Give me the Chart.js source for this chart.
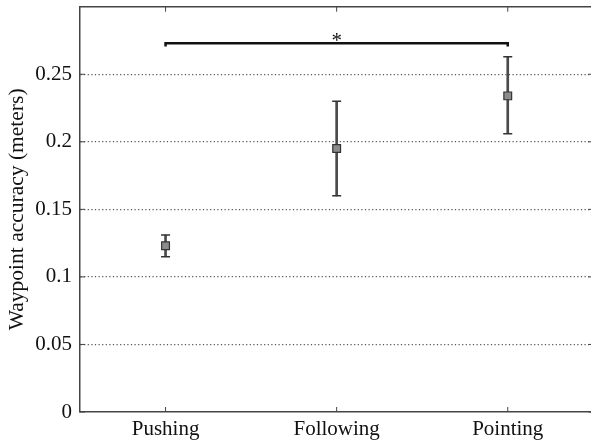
<!DOCTYPE html>
<html>
<head>
<meta charset="utf-8">
<script src="https://cdn.jsdelivr.net/npm/chart.js@4"></script>
<style>
  html, body { margin: 0; padding: 0; background: #fff; overflow: hidden; }
  #wrap { width: 600px; height: 440px; }
</style>
</head>
<body>
<div id="wrap"><canvas id="accChart"></canvas></div>
<script>
// data
const categories = ["Pushing", "Following", "Pointing"];
const meanValues = [0.123, 0.195, 0.234];
const lowerValues = [0.115, 0.160, 0.206];
const upperValues = [0.131, 0.230, 0.263];
const yTickValues = [0, 0.05, 0.1, 0.15, 0.2, 0.25];
const yMax = 0.3;
const bracketFrom = "Pushing";
const bracketTo = "Pointing";
const bracketLevel = 0.273;
const bracketTip = 0.2705;
const sigLabel = "*";

const serif = "'Liberation Serif', 'Times New Roman', serif";

// box border on top + inward tick marks + asterisk
const framePlugin = {
    id: "frame",
    afterDraw(chart) {
        const { ctx, chartArea: a, scales } = chart;
        const x = scales.x, y = scales.y;
        ctx.save();
        ctx.strokeStyle = "#444";
        ctx.lineWidth = 1.5;
        ctx.beginPath();
        ctx.moveTo(a.left, a.top);
        ctx.lineTo(a.right, a.top);
        ctx.stroke();
        ctx.lineWidth = 1;
        ctx.beginPath();
        categories.forEach((c, i) => {
            const px = x.getPixelForValue(i);
            ctx.moveTo(px, a.bottom);
            ctx.lineTo(px, a.bottom - 5);
            ctx.moveTo(px, a.top);
            ctx.lineTo(px, a.top + 5);
        });
        yTickValues.forEach((v) => {
            const py = y.getPixelForValue(v);
            ctx.moveTo(a.left, py);
            ctx.lineTo(a.left + 5, py);
            ctx.moveTo(a.right, py);
            ctx.lineTo(a.right - 5, py);
        });
        ctx.stroke();

        // significance star centred over the bracket
        const mid = (categories.indexOf(bracketFrom) + categories.indexOf(bracketTo)) / 2;
        ctx.fillStyle = "#111";
        ctx.font = "21px " + serif;
        ctx.textAlign = "center";
        ctx.textBaseline = "alphabetic";
        ctx.fillText(sigLabel, x.getPixelForValue(mid), y.getPixelForValue(bracketLevel) + 4);
        ctx.restore();
    },
};

const ctx = document.getElementById("accChart").getContext("2d");
new Chart(ctx, {
    type: "bar",
    data: {
        labels: categories,
        datasets: [
            {
                // error bar stems
                type: "bar",
                data: lowerValues.map((l, i) => [l, upperValues[i]]),
                backgroundColor: "#4a4a4a",
                borderWidth: 0,
                barThickness: 2,
                order: 3,
            },
            {
                type: "line",
                data: upperValues,
                showLine: false,
                pointStyle: "line",
                pointRadius: 4.5,
                borderColor: "#333",
                borderWidth: 1.5,
                order: 2,
            },
            {
                type: "line",
                data: lowerValues,
                showLine: false,
                pointStyle: "line",
                pointRadius: 4.5,
                borderColor: "#333",
                borderWidth: 1.5,
                order: 2,
            },
            {
                type: "line",
                data: meanValues,
                showLine: false,
                pointStyle: "rect",
                pointRadius: 5.5,
                backgroundColor: "#8c8c8c",
                borderColor: "#333",
                borderWidth: 1.2,
                order: 0,
            },
            {
                // significance bracket
                type: "line",
                data: [
                    { x: bracketFrom, y: bracketTip },
                    { x: bracketFrom, y: bracketLevel },
                    { x: bracketTo, y: bracketLevel },
                    { x: bracketTo, y: bracketTip },
                ],
                borderColor: "#111",
                borderWidth: 2.5,
                pointRadius: 0,
                fill: false,
                order: 1,
            },
        ],
    },
    options: {
        responsive: true,
        maintainAspectRatio: false,
        animation: false,
        layout: { padding: { top: 6, right: 0, left: 0, bottom: 0 } },
        plugins: {
            legend: { display: false },
            tooltip: { enabled: false },
        },
        scales: {
            x: {
                offset: true,
                grid: { display: false, drawTicks: false },
                border: { display: true, color: "#444", width: 1.5 },
                ticks: {
                    color: "#111",
                    padding: 5,
                    font: { family: serif, size: 21 },
                },
                afterFit(scale) {
                    scale.height = 28;
                    scale.paddingLeft = 0;
                    scale.paddingRight = 0;
                },
            },
            y: {
                min: 0,
                max: yMax,
                grid: {
                    drawTicks: false,
                    color: (c) => (c.tick && yTickValues.slice(1).some((v) => Math.abs(v - c.tick.value) < 1e-6) ? "#555" : "rgba(0,0,0,0)"),
                    lineWidth: 1.2,
                },
                border: { display: true, color: "#444", width: 1.5, dash: [1.2, 2.4] },
                ticks: {
                    stepSize: 0.05,
                    color: "#111",
                    padding: 8,
                    font: { family: serif, size: 21 },
                    callback: (v) => (yTickValues.some((t) => Math.abs(t - v) < 1e-6) ? String(+v.toFixed(2)) : ""),
                },
                title: {
                    display: true,
                    text: "Waypoint accuracy (meters)",
                    color: "#111",
                    font: { family: serif, size: 21.5 },
                    padding: { top: 4, bottom: 0 },
                },
                afterFit(scale) {
                    scale.width = 80;
                    scale.paddingTop = 0;
                    scale.paddingBottom = 0;
                },
            },
        },
    },
    plugins: [framePlugin],
});
</script>
</body>
</html>
